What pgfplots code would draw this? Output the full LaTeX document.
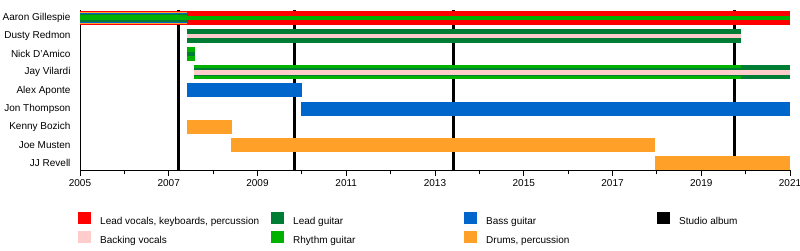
\documentclass[border=0pt]{standalone}
\usepackage{fontspec}
\setmainfont{Liberation Sans}
\usepackage{pgfplots}
\pgfplotsset{compat=1.18}
\definecolor{cVoc}{RGB}{255,0,0}
\definecolor{cBack}{RGB}{255,204,204}
\definecolor{cLead}{RGB}{0,125,52}
\definecolor{cRhy}{RGB}{0,178,0}
\definecolor{cBass}{RGB}{0,102,204}
\definecolor{cDrum}{RGB}{255,160,40}
\begin{document}
\begin{tikzpicture}
\useasboundingbox (-80pt,-80pt) rectangle (720pt,170pt);
\begin{axis}[
  scale only axis, width=710pt, height=160pt,
  xmin=2005, xmax=2021, ymin=0.61, ymax=9.44,
  axis x line*=bottom, axis y line*=left,
  axis line style={-, line width=0.9pt, black},
  xtick={2005,2007,...,2021}, minor xtick={2006,2008,...,2020},
  tick align=outside, major tick length=6pt, minor tick length=4pt,
  x tick style={black, line width=0.8pt},
  ytick={1,...,9},
  yticklabels={JJ Revell, Joe Musten, Kenny Bozich, Jon Thompson, Alex Aponte, Jay Vilardi, Nick D'Amico, Dusty Redmon, Aaron Gillespie},
  y tick style={draw=none},
  /pgf/number format/assume math mode=true,
  x tick label style={/pgf/number format/1000 sep={}},
  tick label style={font=\fontsize{10}{12}\selectfont},
  no markers,
  legend columns=4,
  legend style={at={(0,0)}, anchor=north west, xshift=-2pt, yshift=-42pt,
    draw=none, fill=none, inner sep=0pt, row sep=5pt,
    font=\fontsize{10}{12}\selectfont,
    nodes={inner sep=0pt, anchor=west},
    /tikz/every odd column/.append style={column sep=9.5pt}},
  legend cell align=left,
]
% studio albums
\addplot[black, line width=3pt, forget plot] coordinates {(2007.23,0.61)(2007.23,9.44)};
\addplot[black, line width=3pt, forget plot] coordinates {(2009.83,0.61)(2009.83,9.44)};
\addplot[black, line width=3pt, forget plot] coordinates {(2013.41,0.61)(2013.41,9.44)};
\addplot[black, line width=3pt, forget plot] coordinates {(2019.76,0.61)(2019.76,9.44)};
% Aaron Gillespie
\addplot[cVoc, line width=14pt, forget plot] coordinates {(2005,9)(2021,9)};
\addplot[cDrum, line width=11.4pt, forget plot] coordinates {(2005,9)(2007.4,9)};
\addplot[cBass, line width=10pt, forget plot] coordinates {(2005,9)(2007.4,9)};
\addplot[cLead, line width=8pt, forget plot] coordinates {(2005,9)(2007.4,9)};
\addplot[cRhy, line width=5pt, forget plot] coordinates {(2005,9)(2007.4,9)};
\addplot[cRhy, line width=4.5pt, forget plot] coordinates {(2007.4,9)(2021,9)};
% Dusty Redmon
\addplot[cLead, line width=14pt, forget plot] coordinates {(2007.4,8)(2019.9,8)};
\addplot[cBack, line width=4.5pt, forget plot] coordinates {(2007.4,8)(2019.9,8)};
% Nick D'Amico
\addplot[cRhy, line width=14pt, forget plot] coordinates {(2007.4,7)(2007.6,7)};
\addplot[cLead, line width=4.5pt, forget plot] coordinates {(2007.4,7)(2007.6,7)};
% Jay Vilardi
\addplot[cRhy, line width=14pt, forget plot] coordinates {(2007.57,6)(2019.9,6)};
\addplot[cLead, line width=14pt, forget plot] coordinates {(2019.9,6)(2021,6)};
\addplot[cLead, line width=8pt, forget plot] coordinates {(2007.57,6)(2021,6)};
\addplot[cBack, line width=5pt, forget plot] coordinates {(2007.57,6)(2021,6)};
% Alex Aponte
\addplot[cBass, line width=14pt, forget plot] coordinates {(2007.4,5)(2010.0,5)};
% Jon Thompson
\addplot[cBass, line width=14pt, forget plot] coordinates {(2009.98,4)(2021,4)};
% Kenny Bozich
\addplot[cDrum, line width=14pt, forget plot] coordinates {(2007.4,3)(2008.43,3)};
% Joe Musten
\addplot[cDrum, line width=14pt, forget plot] coordinates {(2008.4,2)(2017.96,2)};
% JJ Revell
\addplot[cDrum, line width=14pt, forget plot] coordinates {(2017.96,1)(2021,1)};
% legend
\pgfplotsset{legend image code/.code={\fill[#1] (0pt,-2.5pt) rectangle (12.5pt,9.5pt);}}
\addlegendimage{fill=cVoc, draw=none}
\addlegendentry{\makebox[171pt][l]{Lead vocals, keyboards, percussion}}
\addlegendimage{fill=cLead, draw=none}
\addlegendentry{\makebox[171pt][l]{Lead guitar}}
\addlegendimage{fill=cBass, draw=none}
\addlegendentry{\makebox[171pt][l]{Bass guitar}}
\addlegendimage{fill=black, draw=none}
\addlegendentry{\makebox[171pt][l]{Studio album}}
\addlegendimage{fill=cBack, draw=none}
\addlegendentry{\makebox[171pt][l]{Backing vocals}}
\addlegendimage{fill=cRhy, draw=none}
\addlegendentry{\makebox[171pt][l]{Rhythm guitar}}
\addlegendimage{fill=cDrum, draw=none}
\addlegendentry{\makebox[171pt][l]{Drums, percussion}}
\end{axis}
\end{tikzpicture}
\end{document}
